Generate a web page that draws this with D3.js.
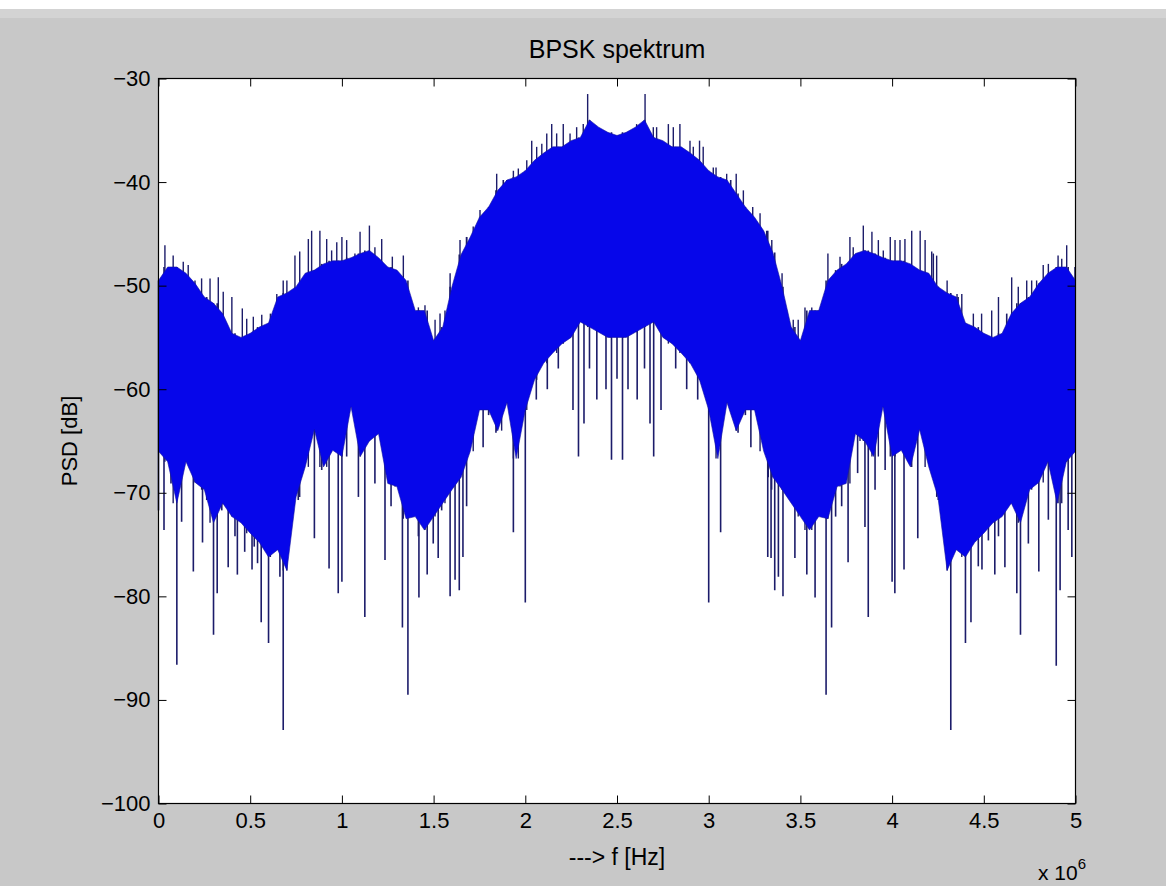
<!DOCTYPE html>
<html>
<head>
<meta charset="utf-8">
<script src="https://cdn.jsdelivr.net/npm/d3@7"></script>
<style>
  body { margin: 0; background: #c8c8c8; }
  svg text { font-family: "Liberation Sans", Arial, sans-serif; fill: #000; }
</style>
</head>
<body>
<svg id="chart"></svg>
<script>
// Spectrum, frequency in MHz (axis shows x 10^6 Hz)
const freqStep = 0.05; // sampling grid of the envelopes, 0 .. 5 MHz

// top of the dense blue band (dB)
const upperDb = [
  -49.5, -48.2, -48.2, -48.8, -49.8, -51.1, -51.7, -52.7, -54.6, -55.0,
  -54.6, -54.0, -53.6, -51.1, -50.7, -50.1, -48.8, -48.5, -47.9, -47.6,
  -47.6, -47.3, -46.9, -46.6, -47.3, -48.2, -48.5, -49.5, -52.4, -52.4,
  -55.3, -54.0, -50.1, -47.0, -45.3, -43.4, -42.4, -40.8, -39.8, -39.5,
  -38.9, -37.9, -37.2, -36.6, -36.6, -36.0, -35.7, -34.0, -34.7, -35.2,
  -35.5, -35.2, -34.7, -34.0, -35.7, -36.0, -36.6, -36.6, -37.2, -37.9,
  -38.9, -39.5, -39.8, -41.1, -42.4, -43.4, -44.7, -46.8, -50.1, -54.0,
  -55.3, -52.4, -52.4, -49.5, -48.5, -47.9, -46.9, -46.6, -46.9, -47.3,
  -47.6, -47.6, -47.9, -48.5, -48.8, -50.1, -50.7, -51.1, -53.6, -54.0,
  -54.6, -55.0, -54.6, -52.7, -51.7, -51.1, -49.8, -48.8, -48.2, -48.2,
  -49.5
];

// bottom of the dense blue band (dB)
const lowerDb = [
  -66.0, -67.0, -71.0, -67.0, -69.0, -69.7, -72.9, -71.0, -72.3, -72.9,
  -73.9, -74.8, -76.2, -75.5, -77.5, -70.4, -67.5, -63.9, -67.5, -65.9,
  -66.5, -61.7, -66.5, -65.0, -64.3, -69.1, -69.4, -72.5, -72.3, -73.6,
  -72.3, -71.0, -69.7, -68.5, -66.0, -62.0, -62.0, -64.0, -61.3, -66.7,
  -62.0, -59.1, -57.5, -56.5, -55.6, -55.0, -53.5, -54.0, -54.5, -55.0,
  -55.0, -55.0, -54.5, -54.0, -53.5, -55.0, -55.6, -56.5, -57.5, -59.1,
  -62.0, -66.7, -61.3, -64.0, -62.0, -62.0, -66.0, -68.5, -69.7, -71.0,
  -72.3, -73.6, -72.3, -72.5, -69.4, -69.1, -64.3, -65.0, -66.5, -61.7,
  -66.5, -65.9, -67.5, -63.9, -67.5, -70.4, -77.5, -75.5, -76.2, -74.8,
  -73.9, -72.9, -72.3, -71.0, -72.9, -69.7, -69.0, -67.0, -71.0, -67.0,
  -66.0
];

// single lines sticking out above the band: [MHz, dB]
const peakSpikes = [
  [0.035, -46.1], [0.08, -47.1], [0.135, -47.7], [0.162, -48.0], [0.199, -49.5],
  [0.235, -49.3], [0.281, -49.3], [0.326, -49.2], [0.353, -50.6], [0.40, -51.1],
  [0.457, -52.2], [0.481, -53.2], [0.517, -53.0], [0.563, -52.8], [0.61, -52.7],
  [0.645, -50.8], [0.68, -49.5], [0.70, -49.5], [0.744, -47.1], [0.77, -46.7],
  [0.817, -45.5], [0.835, -44.7], [0.88, -44.7], [0.917, -45.5], [0.944, -46.6],
  [0.972, -45.8], [1.0, -45.3], [1.026, -45.6], [1.071, -46.9], [1.099, -44.8],
  [1.15, -44.2], [1.18, -46.3], [1.217, -45.5], [1.275, -47.2], [1.335, -47.1],
  [1.38, -52.1], [1.417, -52.1], [1.453, -51.9], [1.508, -53.3], [1.535, -52.7],
  [1.562, -52.4], [1.59, -48.8], [1.644, -45.6], [1.68, -45.3], [1.716, -44.3],
  [1.753, -42.7], [1.79, -43.0], [1.844, -39.2], [1.871, -40.8], [1.899, -39.8],
  [1.935, -38.9], [1.962, -38.7], [2.008, -37.9], [2.035, -36.0], [2.062, -36.6],
  [2.09, -36.3], [2.117, -35.3], [2.144, -34.4], [2.171, -35.3], [2.207, -34.4],
  [2.244, -35.3], [2.28, -34.7], [2.316, -34.4], [2.34, -31.5], [2.407, -35.3],
  [2.462, -35.7], [2.534, -35.7], [2.607, -34.4], [2.653, -31.5], [2.698, -34.7],
  [2.716, -34.7], [2.78, -34.4], [2.807, -34.7], [2.843, -34.4], [2.898, -36.0],
  [2.916, -36.6], [2.95, -36.0], [2.97, -36.6], [3.025, -38.6], [3.04, -38.6],
  [3.098, -39.2], [3.15, -39.2], [3.189, -40.8], [3.24, -42.4], [3.28, -43.0],
  [3.316, -44.7], [3.325, -46.9], [3.344, -45.6], [3.40, -48.8], [3.425, -52.4],
  [3.461, -53.3], [3.488, -53.3], [3.525, -52.1], [3.562, -52.1], [3.598, -52.4],
  [3.65, -46.9], [3.68, -49.5], [3.716, -47.2], [3.77, -45.3], [3.788, -46.3],
  [3.825, -46.9], [3.843, -44.2], [3.89, -44.8], [3.925, -45.6], [3.952, -46.6],
  [3.99, -45.3], [4.016, -45.6], [4.043, -45.6], [4.07, -45.5], [4.107, -44.7],
  [4.153, -44.7], [4.18, -45.6], [4.216, -46.7], [4.225, -46.9], [4.243, -47.1],
  [4.30, -49.5], [4.354, -50.8], [4.38, -50.8], [4.443, -52.7], [4.488, -52.7],
  [4.543, -52.4], [4.58, -51.1], [4.652, -49.2], [4.688, -50.1], [4.734, -49.5],
  [4.761, -49.5], [4.788, -49.5], [4.824, -48.0], [4.852, -47.9], [4.905, -47.1],
  [4.925, -47.4], [4.952, -46.1], [4.997, -48.2]
];

// single lines dropping below the band: [MHz, dB]
const dipSpikes = [
  [0.0, -71.7], [0.03, -73.6], [0.068, -69.1], [0.10, -86.6], [0.126, -72.8],
  [0.19, -77.6], [0.24, -74.8], [0.263, -70.7], [0.30, -83.7], [0.32, -79.7],
  [0.345, -71.7], [0.38, -77.2], [0.417, -74.2], [0.43, -77.9], [0.47, -75.7],
  [0.51, -77.4], [0.522, -75.2], [0.54, -76.8], [0.56, -82.5], [0.60, -84.5],
  [0.62, -75.7], [0.662, -78.1], [0.68, -92.9], [0.722, -69.1], [0.762, -70.7],
  [0.817, -65.9], [0.85, -74.4], [0.89, -67.8], [0.93, -77.3], [0.98, -79.7],
  [1.00, -78.6], [1.026, -66.5], [1.09, -70.4], [1.125, -82.0], [1.18, -69.1],
  [1.235, -76.5], [1.268, -71.3], [1.29, -69.4], [1.33, -83.0], [1.36, -89.5],
  [1.417, -74.2], [1.42, -80.1], [1.465, -77.9], [1.498, -74.9], [1.525, -76.3],
  [1.544, -71.7], [1.59, -80.0], [1.617, -78.4], [1.64, -79.4], [1.66, -76.2],
  [1.68, -71.3], [1.72, -63.0], [1.77, -65.6], [1.80, -62.5], [1.84, -64.2],
  [1.88, -61.0], [1.935, -73.8], [2.0, -80.6], [2.06, -61.0], [2.12, -60.0],
  [2.18, -58.0], [2.26, -62.0], [2.29, -66.5], [2.32, -63.3], [2.35, -58.0],
  [2.39, -61.0], [2.44, -60.0], [2.47, -66.8], [2.50, -59.0], [2.53, -66.8],
  [2.56, -60.0], [2.61, -61.0], [2.65, -58.0], [2.68, -63.3], [2.70, -66.5],
  [2.74, -62.0], [2.82, -58.0], [2.88, -60.0], [2.94, -61.0], [3.0, -80.6],
  [3.065, -73.8], [3.12, -61.0], [3.16, -64.2], [3.20, -62.5], [3.23, -65.6],
  [3.28, -63.0], [3.322, -76.2], [3.34, -76.3], [3.343, -69.7], [3.36, -79.4],
  [3.38, -78.1], [3.405, -80.0], [3.47, -76.3], [3.498, -70.7], [3.535, -77.9],
  [3.58, -80.1], [3.64, -89.5], [3.67, -83.0], [3.692, -72.3], [3.725, -71.3],
  [3.76, -76.7], [3.812, -68.1], [3.852, -73.3], [3.87, -82.0], [3.907, -69.7],
  [3.962, -67.8], [4.0, -78.6], [4.015, -79.7], [4.065, -77.4], [4.14, -74.4],
  [4.252, -70.7], [4.32, -92.9], [4.36, -74.6], [4.40, -84.5], [4.43, -82.5],
  [4.47, -77.1], [4.49, -77.4], [4.525, -74.6], [4.56, -77.9], [4.58, -74.2],
  [4.615, -77.2], [4.625, -68.8], [4.68, -79.7], [4.70, -83.7], [4.743, -74.9],
  [4.80, -77.6], [4.852, -72.6], [4.895, -86.7], [4.916, -79.4], [4.96, -73.6],
  [4.98, -76.2]
];

const xTicks = [0, 0.5, 1, 1.5, 2, 2.5, 3, 3.5, 4, 4.5, 5];
const yTicks = [-100, -90, -80, -70, -60, -50, -40, -30];

const W = 1166, H = 886;
const plot = { left: 158.5, right: 1075.5, top: 78.5, bottom: 803.5 };
const BAND_BLUE = "#0606ea";
const LINE_DARK = "#1c1c6a";
const TICK_FONT = 22;

const svg = d3.select("#chart").attr("width", W).attr("height", H);

// figure background (window strip on top)
svg.append("rect").attr("width", W).attr("height", H).attr("fill", "#c8c8c8");
svg.append("rect").attr("width", W).attr("height", 9).attr("fill", "#ffffff");
svg.append("rect").attr("y", 9).attr("width", W).attr("height", 9).attr("fill", "#d3d3d3");

const x = d3.scaleLinear().domain([0, 5]).range([plot.left, plot.right]);
const y = d3.scaleLinear().domain([-100, -30]).range([plot.bottom, plot.top]);

svg.append("rect")
  .attr("x", plot.left).attr("y", plot.top)
  .attr("width", plot.right - plot.left).attr("height", plot.bottom - plot.top)
  .attr("fill", "#ffffff");

const bandData = upperDb.map((hi, i) => ({ f: i * freqStep, hi, lo: lowerDb[i] }));
const nearest = f => Math.round(f / freqStep);

const marks = svg.append("g");

// thin lines first; the band covers their inner part
marks.selectAll("line.peak")
  .data(peakSpikes)
  .join("line")
    .attr("class", "peak")
    .attr("x1", d => x(d[0])).attr("x2", d => x(d[0]))
    .attr("y1", d => y(d[1]))
    .attr("y2", d => y(lowerDb[nearest(d[0])]))
    .attr("stroke", LINE_DARK)
    .attr("stroke-width", 1.4);

marks.selectAll("line.dip")
  .data(dipSpikes)
  .join("line")
    .attr("class", "dip")
    .attr("x1", d => x(d[0])).attr("x2", d => x(d[0]))
    .attr("y1", d => y(d[1]))
    .attr("y2", d => y(upperDb[nearest(d[0])]))
    .attr("stroke", LINE_DARK)
    .attr("stroke-width", 1.6);

const area = d3.area()
  .x(d => x(d.f))
  .y0(d => y(d.lo))
  .y1(d => y(d.hi));

marks.append("path")
  .datum(bandData)
  .attr("d", area)
  .attr("fill", BAND_BLUE)
  .attr("stroke", "#1414a0")
  .attr("stroke-width", 0.6);

// axes, ticks pointing inwards on all four sides
const tickLen = 8;
const fmt = d3.format("");

svg.append("g")
  .attr("transform", `translate(0,${plot.bottom})`)
  .call(d3.axisBottom(x).tickValues(xTicks).tickFormat(fmt)
    .tickSizeInner(-tickLen).tickSizeOuter(0).tickPadding(9));
svg.append("g")
  .attr("transform", `translate(0,${plot.top})`)
  .call(d3.axisTop(x).tickValues(xTicks).tickFormat("")
    .tickSizeInner(-tickLen).tickSizeOuter(0));
svg.append("g")
  .attr("transform", `translate(${plot.left},0)`)
  .call(d3.axisLeft(y).tickValues(yTicks).tickFormat(fmt)
    .tickSizeInner(-tickLen).tickSizeOuter(0).tickPadding(8));
svg.append("g")
  .attr("transform", `translate(${plot.right},0)`)
  .call(d3.axisRight(y).tickValues(yTicks).tickFormat("")
    .tickSizeInner(-tickLen).tickSizeOuter(0));

svg.selectAll(".domain").remove();
svg.selectAll(".tick line").attr("stroke", "#000");
svg.selectAll(".tick text").attr("font-size", TICK_FONT).attr("fill", "#000");

svg.append("rect")
  .attr("x", plot.left).attr("y", plot.top)
  .attr("width", plot.right - plot.left).attr("height", plot.bottom - plot.top)
  .attr("fill", "none").attr("stroke", "#000").attr("stroke-width", 1.2);

// texts
svg.append("text")
  .attr("x", (plot.left + plot.right) / 2).attr("y", 58)
  .attr("text-anchor", "middle").attr("font-size", 25)
  .text("BPSK spektrum");

svg.append("text")
  .attr("x", (plot.left + plot.right) / 2).attr("y", 865)
  .attr("text-anchor", "middle").attr("font-size", 23)
  .text("---> f [Hz]");

svg.append("text")
  .attr("transform", `translate(77,${(plot.top + plot.bottom) / 2}) rotate(-90)`)
  .attr("text-anchor", "middle").attr("font-size", 22)
  .text("PSD [dB]");

const mult = svg.append("text")
  .attr("x", 1038).attr("y", 880).attr("font-size", 21);
mult.append("tspan").text("x 10");
mult.append("tspan").attr("dy", -11).attr("font-size", 15).text("6");
</script>
</body>
</html>
